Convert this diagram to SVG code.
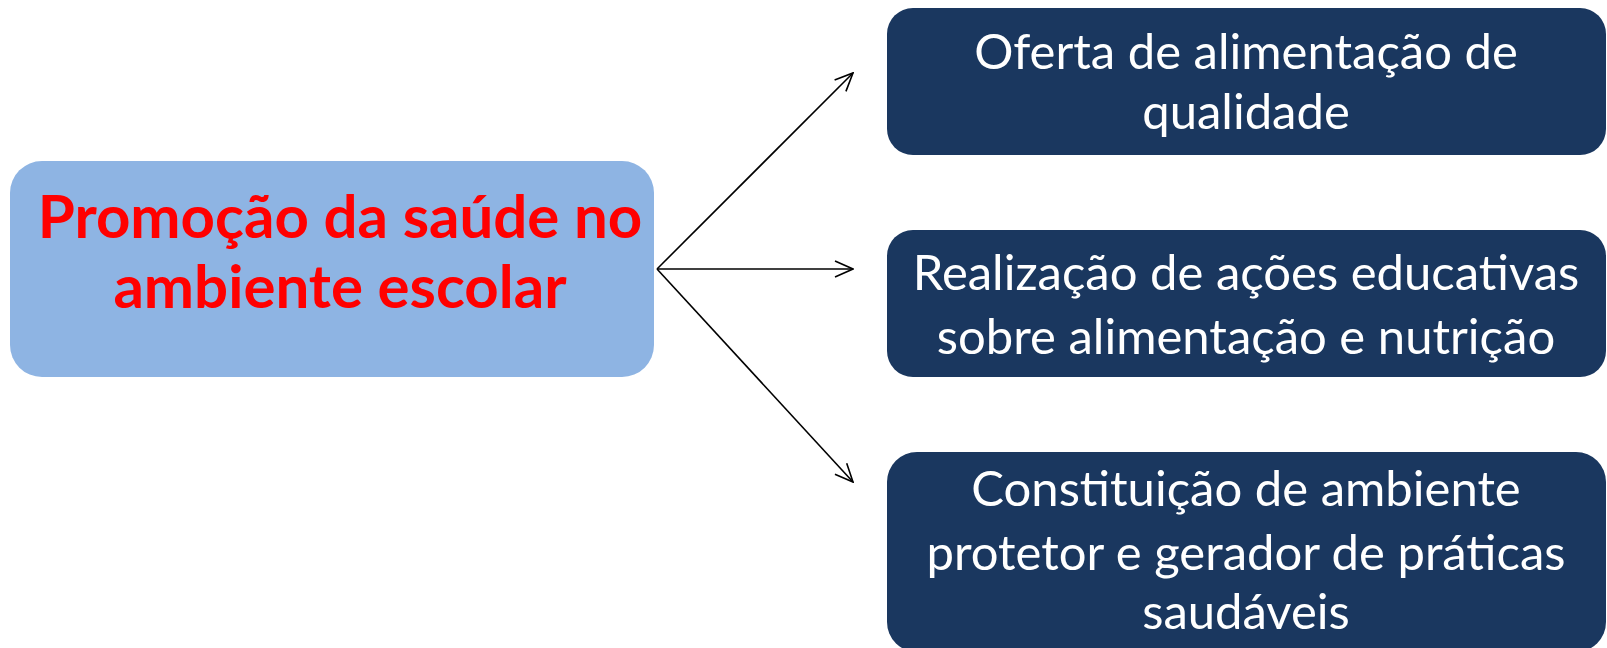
<svg xmlns="http://www.w3.org/2000/svg" width="1607" height="648" viewBox="0 0 1607 648">
<style>
.main{fill:#8EB4E3}
.sub{fill:#1A375F}
.mt{font-family:Lato,"Liberation Sans",sans-serif;font-weight:bold;font-size:60px;fill:#FF0000;text-anchor:middle}
.st{font-family:Lato,"Liberation Sans",sans-serif;font-size:49px;fill:#FFFFFF;text-anchor:middle}
.conn{stroke:#000;stroke-width:1.6;fill:none;marker-end:url(#arr)}
</style>
<defs>
<marker id="arr" viewBox="0 0 20 20" refX="19" refY="10" markerWidth="20" markerHeight="20" markerUnits="userSpaceOnUse" orient="auto">
<path d="M1,2 L19,10 L1,18" fill="none" stroke="#000" stroke-width="1.6"/>
</marker>
</defs>
<g id="node-main">
<rect class="main" x="10" y="161" width="644" height="216" rx="32"/>
<text class="mt" x="340" y="238">Promoção da saúde no</text>
<text class="mt" x="340" y="308">ambiente escolar</text>
</g>
<g id="node-oferta">
<rect class="sub" x="887" y="8" width="719" height="147" rx="26"/>
<text class="st" x="1246" y="69">Oferta de alimentação de</text>
<text class="st" x="1246" y="129">qualidade</text>
</g>
<g id="node-acoes">
<rect class="sub" x="887" y="230" width="719" height="147" rx="26"/>
<text class="st" x="1246" y="290">Realização de ações educativas</text>
<text class="st" x="1246" y="354">sobre alimentação e nutrição</text>
</g>
<g id="node-ambiente">
<rect class="sub" x="887" y="452" width="719" height="200" rx="30"/>
<text class="st" x="1246" y="506">Constituição de ambiente</text>
<text class="st" x="1246" y="570">protetor e gerador de práticas</text>
<text class="st" x="1246" y="629">saudáveis</text>
</g>
<g id="connectors">
<line class="conn" x1="657" y1="269" x2="853" y2="73"/>
<line class="conn" x1="657" y1="269" x2="853" y2="269"/>
<line class="conn" x1="657" y1="269" x2="853" y2="482"/>
</g>
</svg>
